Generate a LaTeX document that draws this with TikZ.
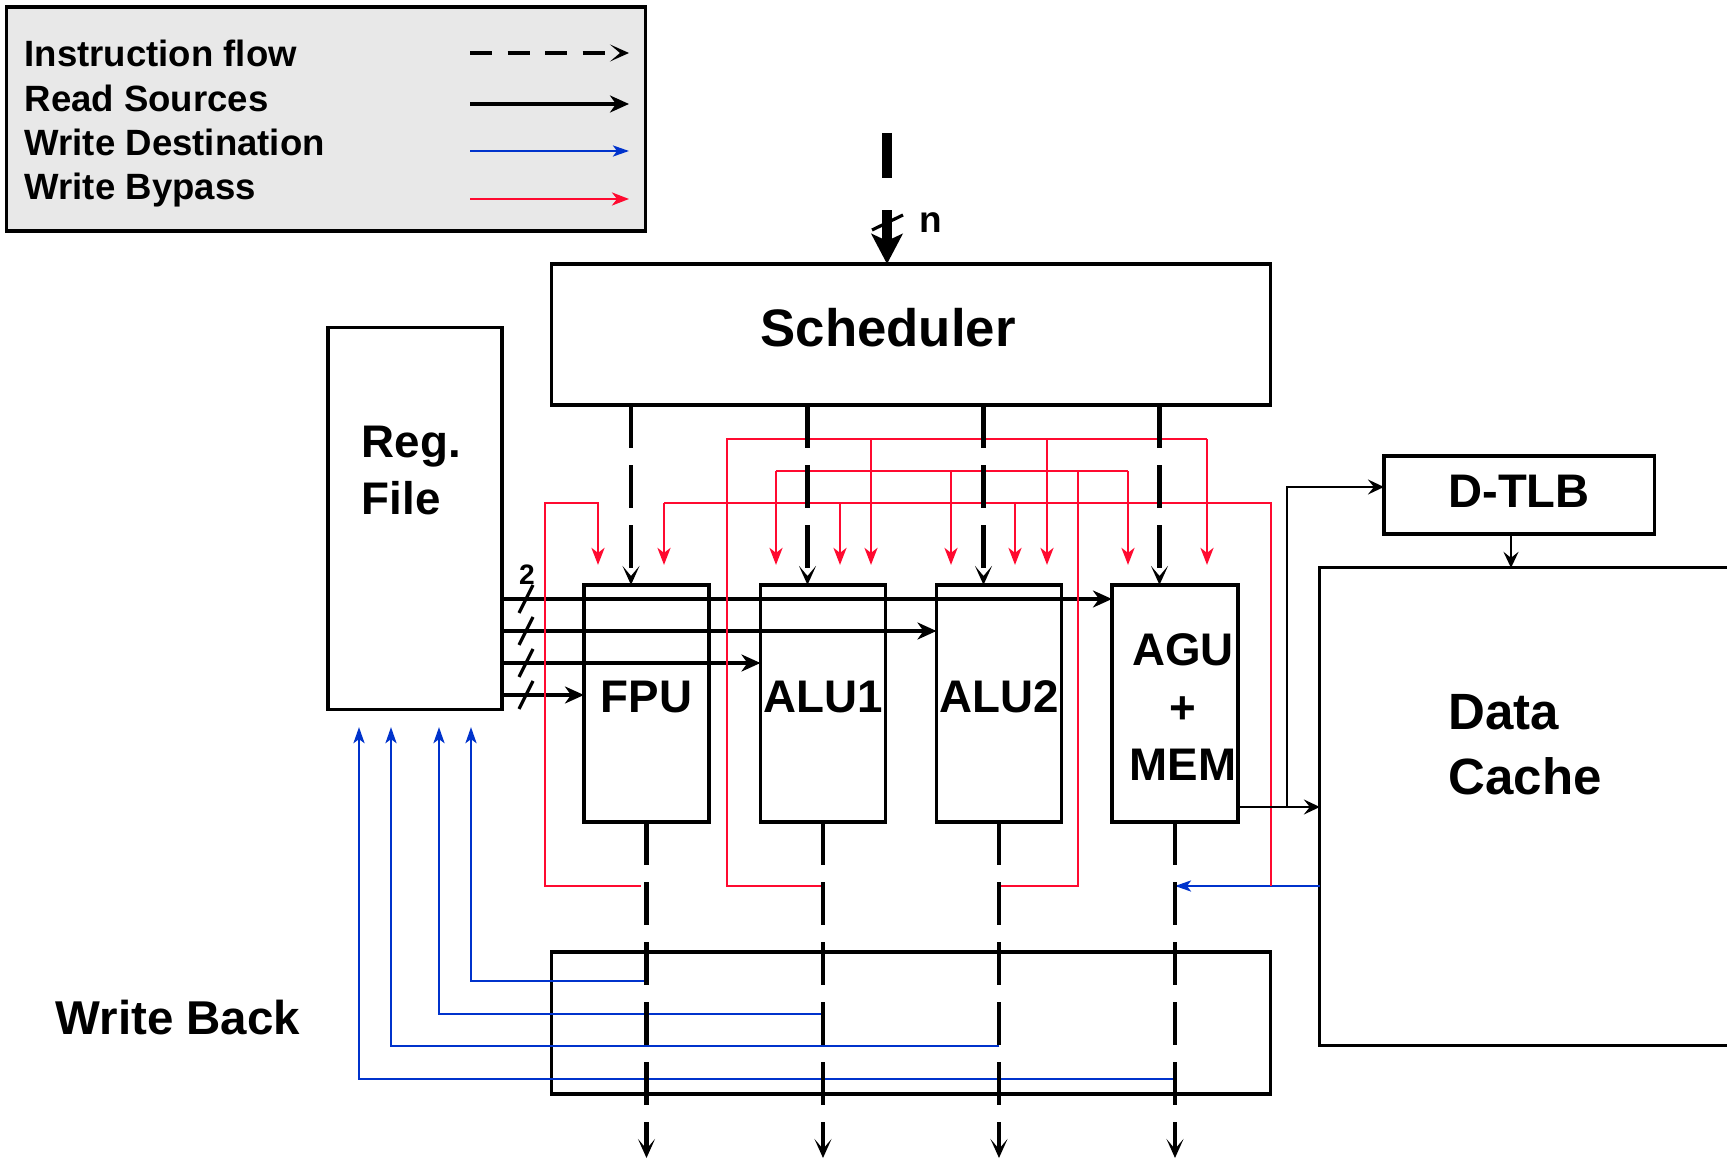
\documentclass[tikz,border=0pt]{standalone}
\usepackage{fontspec}
\setmainfont{Liberation Sans}
\usetikzlibrary{arrows.meta,calc}
\definecolor{bpred}{HTML}{FF0A30}
\definecolor{wdblue}{HTML}{0033CC}
\definecolor{lggray}{HTML}{E8E8E8}
\tikzset{
  unit/.style={draw,line width=0.9pt,fill=white,inner sep=0pt,outer sep=0pt,align=center,
    font=\fontsize{13}{16.4}\selectfont\bfseries},
  txt/.style={inner sep=0pt,align=left,font=\fontsize{13}{16.4}\selectfont\bfseries},
  lgtxt/.style={anchor=base west,inner sep=0pt,font=\fontsize{10.4}{12.5}\selectfont\bfseries},
  instr/.style={line width=1.4pt,dash pattern=on 4.25mm off 1.75mm,-{Stealth[length=1.9mm,width=1.7mm,inset=1mm]}},
  lgdash/.style={instr,dash pattern=on 2.2mm off 1.55mm},
  rdsrc/.style={line width=1.4pt,-{Stealth[length=1.9mm,width=1.7mm,inset=0.6mm]}},
  wrdst/.style={line width=0.75pt,color=wdblue,-{Stealth[length=1.6mm,width=1.1mm,inset=0.4mm]}},
  bypass/.style={line width=0.75pt,color=bpred},
  bparrow/.style={bypass,-{Stealth[length=1.7mm,width=1.3mm,inset=0.5mm]}},
  drop/.style={bparrow,shorten >=2mm},
  thinarrow/.style={line width=0.65pt,-{Stealth[length=1.6mm,width=1.5mm,inset=0.6mm]}},
}
\begin{document}
\begin{tikzpicture}[x=0.01cm,y=-0.01cm]
  \clip (0,0) rectangle (1727,1164);
  \fill[white] (0,0) rectangle (1727,1164);
  % legend
  \node[unit,fill=lggray,minimum width=6.38cm,minimum height=2.24cm] (legend) at (326,119) {};
  \foreach \i/\yy/\t in {1/67/Instruction flow,2/112/Read Sources,3/156/Write Destination,4/200/Write Bypass}
    \node[lgtxt] (lg\i) at (24,\yy) {\t};
  \foreach \i/\yy/\sty in {1/53/lgdash,2/104/rdsrc,3/151/wrdst,4/199/bparrow} {
    \coordinate (ls\i) at (470,\yy);
    \coordinate (le\i) at (629,\yy);
    \draw[\sty] (ls\i) -- (le\i);
  }
  % blocks
  \node[unit,minimum width=7.18cm,minimum height=1.41cm] (sched) at (911,334.5) {};
  \node[txt,anchor=base,font=\fontsize{15}{18}\selectfont\bfseries] (schedlbl) at (888,347) {Scheduler};
  \node[unit,minimum width=1.74cm,minimum height=3.81cm] (regfile) at (415,518.5) {};
  \node[txt,anchor=north west] (reglbl) at (361,425) {Reg.\\File};
  \foreach \fu/\xx/\t in {fpu/646.5/FPU,alu1/823/ALU1,alu2/999/ALU2}
    \node[unit,text depth=1.3mm,minimum width=1.25cm,minimum height=2.37cm] (\fu) at (\xx,703.5) {\t};
  \node[unit,minimum width=1.26cm,minimum height=2.37cm] (agu) at (1175,703.5) {};
  \node[txt,align=center,anchor=north] (agulbl) at (1183,633) {AGU\\+\\MEM};
  \node[unit,fill=none,minimum width=7.18cm,minimum height=1.42cm] (wb) at (911,1023) {};
  \node[txt,anchor=base west,font=\fontsize{13.5}{16}\selectfont\bfseries] (wblbl) at (55,1034) {Write Back};
  \node[unit,text depth=0.7mm,font=\fontsize{13.4}{16}\selectfont\bfseries,minimum width=2.70cm,minimum height=0.78cm] (dtlb) at (1519,495) {D-TLB};
  \node[unit,minimum width=4.8cm,minimum height=4.77cm] (dcache) at (1560,806.5) {};
  \node[txt,anchor=north west,font=\fontsize{14.5}{18.4}\selectfont\bfseries] (dclbl) at (1448,694) {Data\\Cache};

  % issue into scheduler
  \coordinate (issue) at (887,133);
  \draw[line width=2.7pt,dash pattern=on 4.5mm off 3.2mm,-{Stealth[length=3mm,width=3.1mm,inset=0.7mm]}] (issue) -- (sched.north -| issue);
  \draw[line width=0.9pt] (872,230) -- (903,215);
  \node[inner sep=0pt,font=\fontsize{10.5}{12}\selectfont\bfseries] (nlbl) at (931,223) {n};

  % read sources
  \foreach \fu/\yy in {agu/599,alu2/631,alu1/663,fpu/695} {
    \draw[rdsrc] (regfile.east |- 0,\yy) -- (\fu.west |- 0,\yy);
    \draw[line width=0.9pt] (519,\yy+14) -- (533,\yy-14);
  }
  \node[inner sep=0pt,font=\fontsize{8}{9.6}\selectfont\bfseries] (two) at (527,575) {2};

  % write destination
  \foreach \fu/\yy/\xx in {fpu/981/471,alu1/1014/439,alu2/1046/391,agu/1079/359}
    \draw[wrdst,shorten >=1.8mm] (\fu.south |- 0,\yy) -| (regfile.south -| \xx,0);

  % write bypass
  \draw[bparrow,shorten <=0.6mm,shorten >=2mm] (fpu.south |- 0,886) -| (545,503) -| (fpu.north -| 598,0);
  \draw[bypass] (alu1.south |- 0,886) -| (727,439) -- (1207,439);
  \foreach \fu/\xx in {alu1/871,alu2/1047,agu/1207}
    \draw[drop] (\xx,439) -- (\fu.north -| \xx,0);
  \draw[bypass] (alu2.south |- 0,886) -| (1078,471);
  \draw[bypass] (776,471) -- (1128,471);
  \foreach \fu/\xx in {alu1/776,alu2/951,agu/1128}
    \draw[drop] (\xx,471) -- (\fu.north -| \xx,0);
  \draw[wrdst] (dcache.west |- 0,886) -- (agu.south |- 0,886);
  \draw[bypass] (1271,886) |- (664,503);
  \foreach \fu/\xx in {fpu/664,alu1/840,alu2/1015}
    \draw[drop] (\xx,503) -- (\fu.north -| \xx,0);

  % memory side
  \coordinate (tap) at (1287,807);
  \draw[thinarrow] (agu.east |- tap) -- (dcache.west |- tap);
  \draw[thinarrow] (tap) |- (dtlb.west |- 0,487);
  \draw[thinarrow] (dtlb.south -| 1511,0) -- (dcache.north -| 1511,0);

  % instruction flow
  \foreach \fu in {fpu,alu1,alu2,agu} {
    \coordinate (\fu-in) at ($(\fu.north)+(-15.5,0)$);
    \coordinate (\fu-out) at (\fu.south |- 0,1158);
    \draw[instr] (sched.south -| \fu-in) -- (\fu-in);
    \draw[instr] (\fu.south) -- (\fu-out);
  }
\end{tikzpicture}
\end{document}
